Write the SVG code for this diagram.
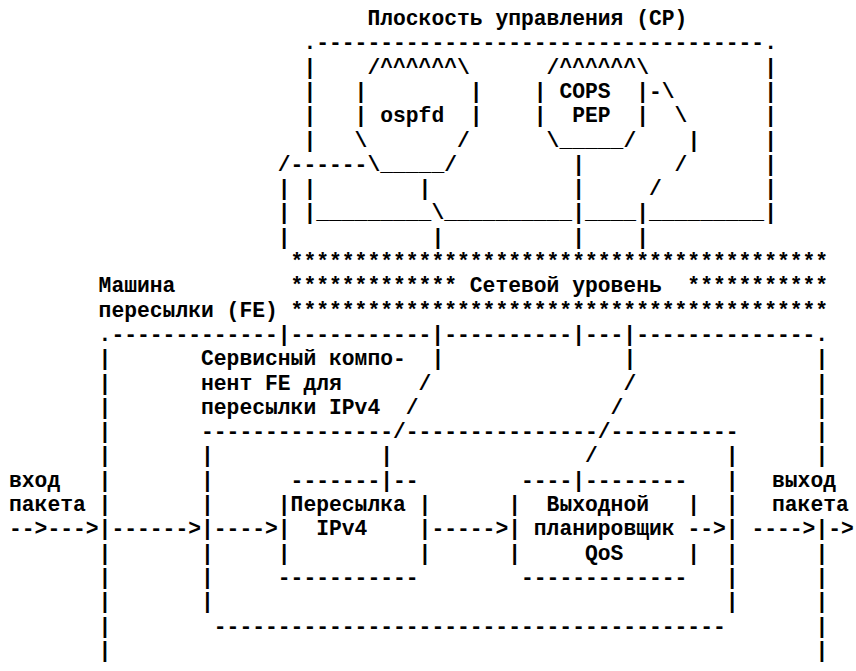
<svg xmlns="http://www.w3.org/2000/svg" width="856" height="671" viewBox="0 0 856 671" xml:space="preserve">
<style>
text { font-family: "Liberation Mono", "Courier New", "DejaVu Sans Mono", monospace; font-size: 21.333px; font-weight: bold; fill: #000; white-space: pre; }
</style>
<rect x="0" y="0" width="856" height="671" fill="#fff"/>
<g id="control-plane">
<text x="367.4" y="25">Плоскость управления (CP)</text>
<text x="303.4" y="49.3">.-----------------------------------.</text>
<text x="303.4" y="73.6">|</text><text x="764.2" y="73.6">|</text>
<text x="303.4" y="97.9">|</text><text x="764.2" y="97.9">|</text>
<text x="303.4" y="122.2">|</text><text x="764.2" y="122.2">|</text>
<text x="303.4" y="146.5">|</text><text x="764.2" y="146.5">|</text>
<text x="764.2" y="170.8">|</text>
<text x="303.4" y="195.1">|</text><text x="764.2" y="195.1">|</text>
<text x="303.4" y="219.4">|_________\__________|____|_________|</text>
</g>
<g id="ospfd">
<text x="367.4" y="73.6">/^^^^^^\</text>
<text x="354.6" y="97.9">|        |</text>
<text x="354.6" y="122.2">| ospfd  |</text>
<text x="354.6" y="146.5">\       /</text>
<text x="367.4" y="170.8">\_____/</text>
</g>
<g id="cops-pep">
<text x="546.6" y="73.6">/^^^^^^\</text>
<text x="533.8" y="97.9">| COPS  |</text>
<text x="533.8" y="122.2">|  PEP  |</text>
<text x="546.6" y="146.5">\_____/</text>
</g>
<g id="network-layer">
<text x="290.6" y="268">******************************************</text>
<text x="290.6" y="292.3">************* Сетевой уровень  ***********</text>
<text x="290.6" y="316.6">******************************************</text>
</g>
<g id="forwarding-engine">
<text x="98.6" y="292.3">Машина</text>
<text x="98.6" y="316.6">пересылки (FE)</text>
<text x="98.6" y="340.9">.-------------|-----------|----------|---|--------------.</text>
<text x="98.6" y="365.2">|</text><text x="815.4" y="365.2">|</text>
<text x="98.6" y="389.5">|</text><text x="815.4" y="389.5">|</text>
<text x="98.6" y="413.8">|</text><text x="815.4" y="413.8">|</text>
<text x="98.6" y="438.1">|</text><text x="815.4" y="438.1">|</text>
<text x="98.6" y="462.4">|</text><text x="815.4" y="462.4">|</text>
<text x="98.6" y="486.7">|</text>
<text x="98.6" y="511">|</text>
<text x="98.6" y="535.3">|</text><text x="815.4" y="535.3">|</text>
<text x="98.6" y="559.6">|</text><text x="815.4" y="559.6">|</text>
<text x="98.6" y="583.9">|</text><text x="815.4" y="583.9">|</text>
<text x="98.6" y="608.2">|</text><text x="815.4" y="608.2">|</text>
<text x="98.6" y="632.5">|</text><text x="815.4" y="632.5">|</text>
<text x="98.6" y="656.8">|</text><text x="815.4" y="656.8">|</text>
</g>
<g id="ipv4-fe-service">
<text x="201" y="365.2">Сервисный компо-</text>
<text x="201" y="389.5">нент FE для</text>
<text x="201" y="413.8">пересылки IPv4</text>
<text x="201" y="438.1">---------------/---------------/----------</text>
<text x="201" y="462.4">|</text><text x="725.8" y="462.4">|</text>
<text x="201" y="486.7">|</text><text x="725.8" y="486.7">|</text>
<text x="201" y="511">|</text><text x="725.8" y="511">|</text>
<text x="201" y="535.3">|</text><text x="725.8" y="535.3">|</text>
<text x="201" y="559.6">|</text><text x="725.8" y="559.6">|</text>
<text x="201" y="583.9">|</text><text x="725.8" y="583.9">|</text>
<text x="201" y="608.2">|</text><text x="725.8" y="608.2">|</text>
<text x="213.8" y="632.5">----------------------------------------</text>
</g>
<g id="ipv4-forwarding">
<text x="290.6" y="486.7">-------|--</text>
<text x="277.8" y="511">|Пересылка |</text>
<text x="277.8" y="535.3">|  IPv4    |</text>
<text x="277.8" y="559.6">|          |</text>
<text x="277.8" y="583.9">-----------</text>
</g>
<g id="qos-scheduler">
<text x="521" y="486.7">----|--------</text>
<text x="508.2" y="511">|  Выходной   |</text>
<text x="508.2" y="535.3">| планировщик</text>
<text x="508.2" y="559.6">|     QoS     |</text>
<text x="521" y="583.9">-------------</text>
</g>
<g id="ingress">
<text x="9" y="486.7">вход</text>
<text x="9" y="511">пакета</text>
</g>
<g id="egress">
<text x="772" y="486.7">выход</text>
<text x="772" y="511">пакета</text>
</g>
<g id="connectors">
<text x="649" y="97.9">-\</text>
<text x="674.6" y="122.2">\</text>
<text x="687.4" y="146.5">|</text>
<text x="277.8" y="170.8">/------</text>
<text x="572.2" y="170.8">|</text>
<text x="674.6" y="170.8">/</text>
<text x="277.8" y="195.1">|</text>
<text x="418.6" y="195.1">|</text>
<text x="572.2" y="195.1">|</text>
<text x="649" y="195.1">/</text>
<text x="277.8" y="219.4">|</text>
<text x="277.8" y="243.7">|</text>
<text x="431.4" y="243.7">|</text>
<text x="572.2" y="243.7">|</text>
<text x="636.2" y="243.7">|</text>
<text x="431.4" y="365.2">|</text>
<text x="623.4" y="365.2">|</text>
<text x="418.6" y="389.5">/</text>
<text x="623.4" y="389.5">/</text>
<text x="405.8" y="413.8">/</text>
<text x="610.6" y="413.8">/</text>
<text x="380.2" y="462.4">|</text>
<text x="585" y="462.4">/</text>
<text x="9" y="535.3">--&gt;---&gt;</text>
<text x="111.4" y="535.3">------&gt;</text>
<text x="213.8" y="535.3">----&gt;</text>
<text x="431.4" y="535.3">-----&gt;</text>
<text x="687.4" y="535.3">--&gt;</text>
<text x="751.4" y="535.3">----&gt;</text>
<text x="828.2" y="535.3">-&gt;</text>
</g>
</svg>
